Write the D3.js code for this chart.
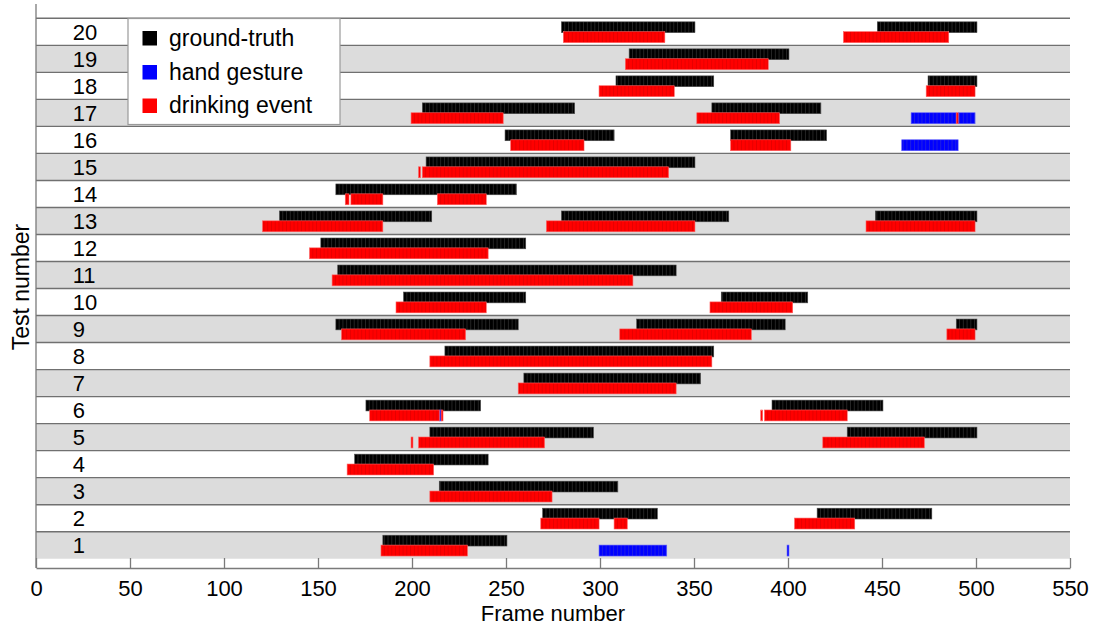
<!DOCTYPE html>
<html>
<head>
<meta charset="utf-8">
<script src="https://cdn.jsdelivr.net/npm/d3@7"></script>
<style>
  html, body { margin: 0; padding: 0; background: #fff; }
  svg { display: block; font-family: "Liberation Sans", Arial, sans-serif; }
</style>
</head>
<body>
<svg id="chart" width="1096" height="624"></svg>
<script>
// Test runs shown as horizontal lanes
const testNumbers = [1, 2, 3, 4, 5, 6, 7, 8, 9, 10, 11, 12, 13, 14, 15, 16, 17, 18, 19, 20];
const frameTicks = [0, 50, 100, 150, 200, 250, 300, 350, 400, 450, 500, 550];

// Intervals as [test, firstFrame, lastFrame + 1]
const groundTruth = [
  [20, 280, 351], [20, 448, 501],
  [19, 316, 401],
  [18, 309, 361], [18, 475, 501],
  [17, 206, 287], [17, 360, 418],
  [16, 250, 308], [16, 370, 421],
  [15, 208, 351],
  [14, 160, 256],
  [13, 130, 211], [13, 280, 369], [13, 447, 501],
  [12, 152, 261],
  [11, 161, 341],
  [10, 196, 261], [10, 365, 411],
  [9, 160, 257], [9, 320, 399], [9, 490, 501],
  [8, 218, 361],
  [7, 260, 354],
  [6, 176, 237], [6, 392, 451],
  [5, 210, 297], [5, 432, 501],
  [4, 170, 241],
  [3, 215, 310],
  [2, 270, 331], [2, 416, 477],
  [1, 185, 251]
];

const handGesture = [
  [17, 466, 490], [17, 491, 500],
  [16, 461, 491],
  [6, 215, 216],
  [1, 300, 336], [1, 400, 401]
];

const drinkingEvent = [
  [20, 281, 335], [20, 430, 486],
  [19, 314, 390],
  [18, 300, 340], [18, 474, 500],
  [17, 200, 249], [17, 352, 396], [17, 490, 491],
  [16, 253, 292], [16, 370, 402],
  [15, 204, 205], [15, 206, 337],
  [14, 165, 167], [14, 168, 185], [14, 214, 240],
  [13, 121, 185], [13, 272, 351], [13, 442, 500],
  [12, 146, 241],
  [11, 158, 318],
  [10, 192, 240], [10, 359, 403],
  [9, 163, 229], [9, 311, 381], [9, 485, 500],
  [8, 210, 360],
  [7, 257, 341],
  [6, 178, 215], [6, 216, 217], [6, 386, 387], [6, 388, 432],
  [5, 200, 201], [5, 204, 271], [5, 419, 473],
  [4, 166, 212],
  [3, 210, 275],
  [2, 269, 300], [2, 308, 315], [2, 404, 436],
  [1, 184, 230]
];

const legendItems = ["ground-truth", "hand gesture", "drinking event"];

const svg = d3.select("#chart");
const x = d3.scaleLinear().domain([0, 550]).range([36, 1070]);
const y = d3.scaleLinear().domain([0.157, 21.03]).range([568, 4]);

// Stripe textures (one frame cell every two frames)
const defs = svg.append("defs");
const styles = {
  gt:    { fill: "#000000", stripe: "#333333", edge: "#4a4a4a" },
  hand:  { fill: "#0000ff", stripe: "#2a2ad8", edge: "#5a5aff" },
  drink: { fill: "#ff0000", stripe: "#dc0000", edge: "#ff6060" }
};
const period = x(2) - x(0);
Object.entries(styles).forEach(([k, s]) => {
  const p = defs.append("pattern")
    .attr("id", "tex-" + k)
    .attr("patternUnits", "userSpaceOnUse")
    .attr("x", x(-0.5)).attr("y", 0)
    .attr("width", period).attr("height", 10);
  p.append("rect").attr("width", period).attr("height", 10).attr("fill", s.fill);
  p.append("rect").attr("x", period - 0.7).attr("width", 0.7).attr("height", 10)
    .attr("fill", s.stripe);
});

// Lane backgrounds
svg.append("g").selectAll("rect")
  .data(testNumbers)
  .join("rect")
  .attr("x", x(0))
  .attr("width", x(550) - x(0))
  .attr("y", d => y(d + 0.5))
  .attr("height", d => y(d - 0.5) - y(d + 0.5))
  .attr("fill", d => d % 2 === 1 ? "#dcdcdc" : "#ffffff");

// Lane separators
svg.append("g").selectAll("line")
  .data(testNumbers)
  .join("line")
  .attr("x1", x(0)).attr("x2", x(550))
  .attr("y1", d => y(d + 0.5)).attr("y2", d => y(d + 0.5))
  .attr("stroke", "#707070")
  .attr("stroke-width", 1.4);

// Lane labels
svg.append("g").selectAll("text")
  .data(testNumbers)
  .join("text")
  .attr("x", x(19.5))
  .attr("y", d => y(d) + 8)
  .attr("font-size", 22)
  .attr("fill", "#000")
  .text(d => d);

function drawIntervals(data, key, top, bottom) {
  const s = styles[key];
  svg.append("g").selectAll("rect")
    .data(data)
    .join("rect")
    .attr("x", d => x(d[1] - 0.5))
    .attr("width", d => x(d[2] - 0.5) - x(d[1] - 0.5))
    .attr("y", d => y(d[0] + top))
    .attr("height", d => y(d[0] + bottom) - y(d[0] + top))
    .attr("fill", "url(#tex-" + key + ")")
    .attr("stroke", s.edge)
    .attr("stroke-width", 0.6);
}

drawIntervals(groundTruth, "gt", 0.37, -0.03);
drawIntervals(handGesture, "hand", 0.005, -0.4);
drawIntervals(drinkingEvent, "drink", 0.005, -0.4);

// X axis
const xAxis = d3.axisBottom(x)
  .tickValues(frameTicks)
  .tickFormat(d3.format("d"))
  .tickSizeInner(-10)
  .tickSizeOuter(0)
  .tickPadding(12.5);
const gx = svg.append("g").attr("transform", "translate(0,568)").call(xAxis);
gx.select(".domain").attr("stroke", "#7a7a7a").attr("stroke-width", 1.3);
gx.selectAll(".tick line").attr("stroke", "#7a7a7a").attr("stroke-width", 1.3);
gx.selectAll(".tick text")
  .attr("font-size", 22)
  .attr("font-family", "Liberation Sans, Arial, sans-serif")
  .attr("fill", "#000");

// Left axis line
svg.append("line")
  .attr("x1", x(0)).attr("x2", x(0))
  .attr("y1", y(21.03)).attr("y2", y(0.157))
  .attr("stroke", "#7a7a7a")
  .attr("stroke-width", 1.3);

// Axis titles
svg.append("text")
  .attr("x", (x(0) + x(550)) / 2)
  .attr("y", 620.5)
  .attr("text-anchor", "middle")
  .attr("font-size", 22)
  .text("Frame number");

svg.append("text")
  .attr("transform", "translate(29,287) rotate(-90)")
  .attr("text-anchor", "middle")
  .attr("font-size", 23)
  .text("Test number");

// Legend
const legend = svg.append("g");
legend.append("rect")
  .attr("x", 128).attr("y", 18.5)
  .attr("width", 212).attr("height", 106)
  .attr("fill", "#fff")
  .attr("stroke", "#9a9a9a")
  .attr("stroke-width", 1.2);
const legendColors = [styles.gt.fill, styles.hand.fill, styles.drink.fill];
const rowY = [31, 65, 98.5];
legendItems.forEach((name, i) => {
  legend.append("rect")
    .attr("x", 142.5).attr("y", rowY[i])
    .attr("width", 14.5).attr("height", 14.5)
    .attr("fill", legendColors[i]);
  legend.append("text")
    .attr("x", 169).attr("y", rowY[i] + 14.5)
    .attr("font-size", 23)
    .text(name);
});
</script>
</body>
</html>
